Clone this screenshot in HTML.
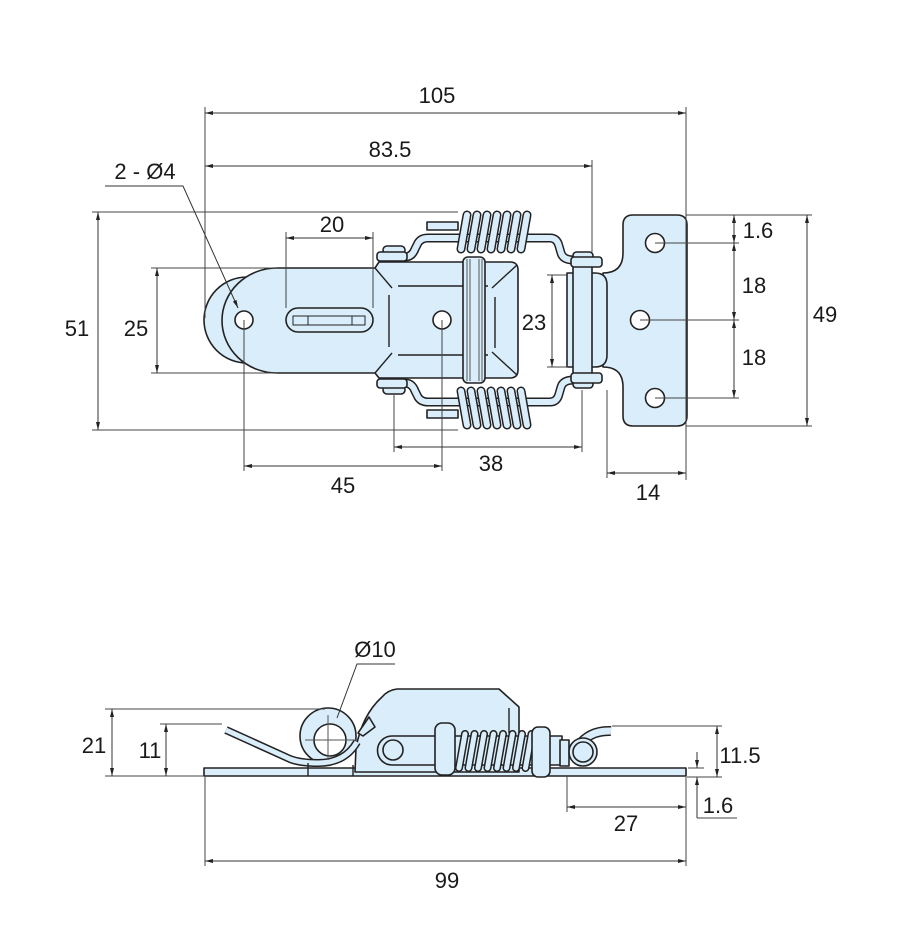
<!DOCTYPE html>
<html><head><meta charset="utf-8"><style>
html,body{margin:0;padding:0;background:#fff;}
svg{display:block}
text{font-family:"Liberation Sans",sans-serif;font-size:22px;fill:#1a1a1a;text-anchor:middle}
.d{stroke:#333;stroke-width:1;fill:none}
.e{stroke:#444;stroke-width:1;fill:none}
.o{stroke:#222;stroke-width:1.6;fill:#d9edfa;stroke-linejoin:round}
.w{fill:#fff;stroke:#222;stroke-width:1.6}
.l{stroke:#222;stroke-width:1.4;fill:none}
.t{stroke:#555;stroke-width:1;fill:none}
.wo{stroke:#222;stroke-width:9;fill:none;stroke-linejoin:round;stroke-linecap:butt}
.wi{stroke:#d9edfa;stroke-width:6;fill:none;stroke-linejoin:round;stroke-linecap:butt}
.co{stroke:#222;stroke-width:9;stroke-linecap:round}
.ci{stroke:#d9edfa;stroke-width:6;stroke-linecap:round}
.so{stroke:#222;stroke-width:8;stroke-linecap:round}
.si{stroke:#d9edfa;stroke-width:5;stroke-linecap:round}
</style></head><body>
<svg width="899" height="952" viewBox="0 0 899 952" xmlns="http://www.w3.org/2000/svg">
<defs>
<marker id="a" viewBox="0 0 8 4" refX="8" refY="2" markerWidth="8" markerHeight="4" markerUnits="userSpaceOnUse" orient="auto-start-reverse"><path d="M0,0 L8,2 L0,4 z" fill="#222"/></marker>
<g id="up">
  <path d="M427 222 h31 v8 h-31 z" class="o"/>
  <path class="wo" d="M392 257 L405 257 Q412 257 415 249 L418 243 Q421 238 428 238 L550 238 Q557 238 559 246 L561 253 Q563 260 574 260"/>
  <path class="wi" d="M392 257 L405 257 Q412 257 415 249 L418 243 Q421 238 428 238 L550 238 Q557 238 559 246 L561 253 Q563 260 574 260"/>
  <rect x="383" y="246" width="22" height="8" rx="4" class="o"/>
  <rect x="377" y="252" width="30" height="9" rx="3" class="o"/>
  <line class="co" x1="461" y1="249" x2="467" y2="215"/><line class="ci" x1="461" y1="249" x2="467" y2="215"/>
  <line class="co" x1="471" y1="249" x2="477" y2="215"/><line class="ci" x1="471" y1="249" x2="477" y2="215"/>
  <line class="co" x1="481" y1="249" x2="487" y2="215"/><line class="ci" x1="481" y1="249" x2="487" y2="215"/>
  <line class="co" x1="491" y1="249" x2="497" y2="215"/><line class="ci" x1="491" y1="249" x2="497" y2="215"/>
  <line class="co" x1="501" y1="249" x2="507" y2="215"/><line class="ci" x1="501" y1="249" x2="507" y2="215"/>
  <line class="co" x1="511" y1="249" x2="517" y2="215"/><line class="ci" x1="511" y1="249" x2="517" y2="215"/>
  <line class="co" x1="521" y1="249" x2="527" y2="215"/><line class="ci" x1="521" y1="249" x2="527" y2="215"/>
</g>
<g id="cap">
  <rect x="573" y="252" width="20" height="7" rx="3.5" class="o"/>
  <rect x="571" y="257" width="31" height="10" rx="3" class="o"/>
</g>
</defs>

<!-- ===== TOP VIEW ===== -->
<circle cx="247" cy="320" r="43" class="o"/>
<path class="o" d="M277 268 L375 268 L379 262 L510 262 Q518 262 518 270 L518 370 Q518 378 510 378 L379 378 L375 373 L277 373 A55 52.5 0 0 1 277 268 Z"/>
<line class="l" x1="375" y1="268" x2="392" y2="288"/>
<line class="l" x1="375" y1="373" x2="392" y2="353"/>
<line class="l" x1="389" y1="295" x2="389" y2="347"/>
<line class="l" x1="398" y1="286" x2="488" y2="286"/>
<line class="l" x1="398" y1="355" x2="488" y2="355"/>
<line class="l" x1="495" y1="297" x2="495" y2="348"/>
<line class="l" x1="517" y1="265" x2="492" y2="288"/>
<line class="l" x1="517" y1="375" x2="492" y2="352"/>
<rect x="286" y="308" width="87" height="24" rx="12" class="o"/>
<rect x="293" y="316" width="72" height="9" class="t" style="stroke:#222"/>
<line class="t" x1="308" y1="316" x2="308" y2="325" style="stroke:#222"/>
<line class="t" x1="352" y1="316" x2="352" y2="325" style="stroke:#222"/>
<rect x="463" y="257" width="22" height="126" rx="5" class="o"/>
<line class="t" x1="467" y1="259" x2="467" y2="381"/>
<line class="t" x1="470" y1="259" x2="470" y2="381"/>
<line class="t" x1="479" y1="259" x2="479" y2="381"/>
<line class="t" x1="482" y1="259" x2="482" y2="381"/>
<circle cx="244" cy="320" r="9" class="w"/>
<circle cx="442" cy="320" r="9" class="w"/>
<use href="#up"/>
<use href="#up" transform="translate(0,640) scale(1,-1)"/>
<path class="o" d="M633 215 L677 215 Q687 215 687 225 L687 416 Q687 426 677 426 L633 426 Q623 426 623 416 L623 387 Q623 367 603 367 L603 273 Q623 273 623 253 L623 225 Q623 215 633 215 Z"/>
<path class="o" d="M567 273 L595 273 Q607 273 607 285 L607 355 Q607 367 595 367 L567 367 Z"/>
<rect x="573" y="262" width="19" height="116" class="o" style="fill:#d9edfa"/>
<use href="#cap"/>
<use href="#cap" transform="translate(0,640) scale(1,-1)"/>
<circle cx="655" cy="243" r="9.5" class="w"/>
<circle cx="640" cy="320" r="9.5" class="w"/>
<circle cx="655" cy="398" r="9.5" class="w"/>

<g class="e">
<line x1="205" y1="107" x2="205" y2="318"/>
<line x1="686" y1="107" x2="686" y2="480"/>
<line x1="592" y1="160" x2="592" y2="252"/>
<line x1="286" y1="232" x2="286" y2="308"/>
<line x1="373" y1="232" x2="373" y2="308"/>
<line x1="92" y1="212" x2="458" y2="212"/>
<line x1="92" y1="430" x2="458" y2="430"/>
<line x1="151" y1="268" x2="277" y2="268"/>
<line x1="151" y1="373" x2="277" y2="373"/>
<line x1="244" y1="320" x2="244" y2="471"/>
<line x1="442" y1="320" x2="442" y2="471"/>
<line x1="394" y1="395" x2="394" y2="452"/>
<line x1="582" y1="390" x2="582" y2="452"/>
<line x1="607" y1="390" x2="607" y2="478"/>
<line x1="547" y1="275" x2="568" y2="275"/>
<line x1="547" y1="367" x2="568" y2="367"/>
<line x1="655" y1="243" x2="739" y2="243"/>
<line x1="640" y1="320" x2="739" y2="320"/>
<line x1="655" y1="398" x2="739" y2="398"/>
<line x1="686" y1="215" x2="812" y2="215"/>
<line x1="686" y1="426" x2="812" y2="426"/>
</g>
<polyline class="d" points="105,186 183,186 238,308" marker-end="url(#a)"/>
<g class="d">
<line x1="205" y1="113" x2="686" y2="113" marker-start="url(#a)" marker-end="url(#a)"/>
<line x1="205" y1="166" x2="592" y2="166" marker-start="url(#a)" marker-end="url(#a)"/>
<line x1="286" y1="238" x2="373" y2="238" marker-start="url(#a)" marker-end="url(#a)"/>
<line x1="98" y1="212" x2="98" y2="430" marker-start="url(#a)" marker-end="url(#a)"/>
<line x1="157" y1="268" x2="157" y2="373" marker-start="url(#a)" marker-end="url(#a)"/>
<line x1="552" y1="275" x2="552" y2="367" marker-start="url(#a)" marker-end="url(#a)"/>
<line x1="734" y1="215" x2="734" y2="243" marker-start="url(#a)" marker-end="url(#a)"/>
<line x1="734" y1="243" x2="734" y2="320" marker-start="url(#a)" marker-end="url(#a)"/>
<line x1="734" y1="320" x2="734" y2="398" marker-start="url(#a)" marker-end="url(#a)"/>
<line x1="807" y1="215" x2="807" y2="426" marker-start="url(#a)" marker-end="url(#a)"/>
<line x1="244" y1="466" x2="442" y2="466" marker-start="url(#a)" marker-end="url(#a)"/>
<line x1="394" y1="447" x2="582" y2="447" marker-start="url(#a)" marker-end="url(#a)"/>
<line x1="607" y1="473" x2="686" y2="473" marker-start="url(#a)" marker-end="url(#a)"/>
</g>

<text x="437" y="103">105</text>
<text x="390" y="157">83.5</text>
<text x="145" y="179">2 - Ø4</text>
<text x="332" y="232">20</text>
<text x="77" y="336">51</text>
<text x="136" y="336">25</text>
<text x="534" y="330">23</text>
<text x="758" y="238">1.6</text>
<text x="754" y="293">18</text>
<text x="754" y="365">18</text>
<text x="825" y="322">49</text>
<text x="491" y="471">38</text>
<text x="343" y="493">45</text>
<text x="648" y="500">14</text>

<!-- ===== SIDE VIEW ===== -->
<rect x="204" y="768" width="482" height="8" class="o"/>
<path class="o" d="M355 772 L356 748 Q362 715 382 697 Q388 690 397 689 L499 689 L519 707 L519 772 Z"/>
<line class="l" x1="509" y1="708" x2="509" y2="733"/>
<polygon class="o" points="358,733 369,717 375,727 363,736"/>
<path class="o" d="M392 736 L562 736 L562 765 L392 765 A14.5 14.5 0 0 1 392 736 Z"/>
<circle cx="393" cy="750" r="10" class="o"/>
<line class="so" x1="459" y1="768" x2="465" y2="734"/><line class="si" x1="459" y1="768" x2="465" y2="734"/>
<line class="so" x1="468.5" y1="768" x2="474.5" y2="734"/><line class="si" x1="468.5" y1="768" x2="474.5" y2="734"/>
<line class="so" x1="478" y1="768" x2="484" y2="734"/><line class="si" x1="478" y1="768" x2="484" y2="734"/>
<line class="so" x1="487.5" y1="768" x2="493.5" y2="734"/><line class="si" x1="487.5" y1="768" x2="493.5" y2="734"/>
<line class="so" x1="497" y1="768" x2="503" y2="734"/><line class="si" x1="497" y1="768" x2="503" y2="734"/>
<line class="so" x1="506.5" y1="768" x2="512.5" y2="734"/><line class="si" x1="506.5" y1="768" x2="512.5" y2="734"/>
<line class="so" x1="516" y1="768" x2="522" y2="734"/><line class="si" x1="516" y1="768" x2="522" y2="734"/>
<line class="so" x1="525.5" y1="768" x2="531.5" y2="734"/><line class="si" x1="525.5" y1="768" x2="531.5" y2="734"/>
<rect x="435" y="723" width="20" height="52" rx="7" class="o"/>
<rect x="532" y="727" width="18" height="50" rx="6" class="o"/>
<rect x="560" y="740" width="9" height="26" class="o"/>
<path class="wo" style="stroke-width:10" d="M578 746 Q590 730 611 731"/>
<path class="wi" style="stroke-width:7" d="M578 746 Q590 730 611 731"/>
<circle cx="583" cy="752" r="14" class="o"/>
<circle cx="583" cy="752" r="10" class="o"/>
<circle cx="328" cy="736" r="28" class="o"/>
<path class="wo" style="stroke-width:8" d="M226 730 L290 759 Q300 763 318 763 Q345 763 357 742"/>
<path class="wi" style="stroke-width:5" d="M226 730 L290 759 Q300 763 318 763 Q345 763 357 742"/>
<circle cx="330" cy="740" r="16" class="w"/>
<line class="t" x1="305" y1="740" x2="357" y2="740"/>
<line class="t" x1="328" y1="715" x2="328" y2="760"/>
<line class="l" x1="308" y1="763" x2="308" y2="776"/>
<line class="l" x1="353" y1="765" x2="353" y2="776"/>

<g class="e">
<line x1="105" y1="709" x2="325" y2="709"/>
<line x1="105" y1="776" x2="204" y2="776"/>
<line x1="160" y1="724" x2="222" y2="724"/>
<line x1="612" y1="726" x2="722" y2="726"/>
<line x1="687" y1="777" x2="722" y2="777"/>
<line x1="688" y1="768" x2="704" y2="768"/>
<line x1="697" y1="818" x2="737" y2="818"/>
<line x1="567" y1="776" x2="567" y2="812"/>
<line x1="686" y1="777" x2="686" y2="866"/>
<line x1="205" y1="777" x2="205" y2="866"/>
</g>
<polyline class="d" points="395,664 357,664 337,718"/>
<g class="d">
<line x1="112" y1="709" x2="112" y2="776" marker-start="url(#a)" marker-end="url(#a)"/>
<line x1="166" y1="724" x2="166" y2="776" marker-start="url(#a)" marker-end="url(#a)"/>
<line x1="717" y1="726" x2="717" y2="777" marker-start="url(#a)" marker-end="url(#a)"/>
<line x1="697" y1="752" x2="697" y2="768" marker-end="url(#a)"/>
<line x1="697" y1="818" x2="697" y2="777" marker-end="url(#a)"/>
<line x1="567" y1="807" x2="686" y2="807" marker-start="url(#a)" marker-end="url(#a)"/>
<line x1="205" y1="861" x2="686" y2="861" marker-start="url(#a)" marker-end="url(#a)"/>
</g>

<text x="375" y="657">Ø10</text>
<text x="94" y="753">21</text>
<text x="150" y="758">11</text>
<text x="740" y="763">11.5</text>
<text x="718" y="813">1.6</text>
<text x="626" y="831">27</text>
<text x="447" y="888">99</text>
</svg>
</body></html>
